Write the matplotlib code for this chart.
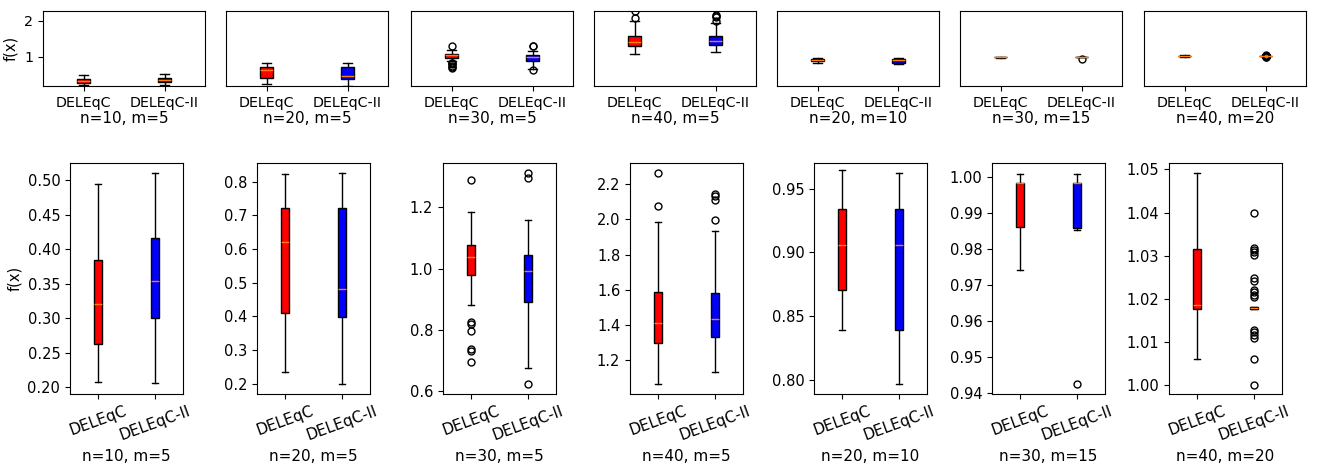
import numpy as np
import matplotlib
matplotlib.use("Agg")
import matplotlib.pyplot as plt

algos = ["DELEqC", "DELEqC-II"]
colors = ["red", "blue"]
cases = ["n=10, m=5", "n=20, m=5", "n=30, m=5", "n=40, m=5",
         "n=20, m=10", "n=30, m=15", "n=40, m=20"]

# per case: [DELEqC, DELEqC-II] -> (whislo, q1, med, q3, whishi)
box_stats = [
    [(0.2068, 0.262, 0.321, 0.385, 0.495), (0.2058, 0.3007, 0.3534, 0.4163, 0.5107)],
    [(0.236, 0.411, 0.621, 0.723, 0.823), (0.200, 0.397, 0.481, 0.723, 0.824)],
    [(0.880, 0.979, 1.0378, 1.078, 1.186), (0.675, 0.892, 0.992, 1.043, 1.160)],
    [(1.068, 1.302, 1.412, 1.588, 1.986), (1.134, 1.332, 1.438, 1.584, 1.935)],
    [(0.839, 0.8702, 0.9055, 0.9336, 0.9643), (0.7968, 0.8392, 0.9055, 0.9336, 0.9622)],
    [(0.9744, 0.9861, 0.9985, 0.9985, 1.001), (0.9853, 0.986, 0.9985, 0.9985, 1.001)],
    [(1.0061, 1.0178, 1.0186, 1.0316, 1.0491), (1.0178, 1.0178, 1.01795, 1.0182, 1.0182)],
]

outliers = [
    [[], []],
    [[], []],
    [[1.289, 0.825, 0.820, 0.795, 0.736, 0.730, 0.693], [1.312, 1.297, 0.624]],
    [[2.262, 2.077], [2.147, 2.132, 2.111, 1.994]],
    [[], []],
    [[], [0.9427]],
    [[], [1.040, 1.0319, 1.0314, 1.0309, 1.0302, 1.0248, 1.0241, 1.0222,
          1.0216, 1.0210, 1.0204, 1.0128, 1.0123, 1.0116, 1.0110, 1.0062, 1.0000]],
]

bottom_yticks = [
    [0.20, 0.25, 0.30, 0.35, 0.40, 0.45, 0.50],
    [0.2, 0.3, 0.4, 0.5, 0.6, 0.7, 0.8],
    [0.6, 0.8, 1.0, 1.2],
    [1.2, 1.4, 1.6, 1.8, 2.0, 2.2],
    [0.80, 0.85, 0.90, 0.95],
    [0.94, 0.95, 0.96, 0.97, 0.98, 0.99, 1.00],
    [1.00, 1.01, 1.02, 1.03, 1.04, 1.05],
]
bottom_ylims = [(0.19, 0.525), (0.17, 0.855), (0.59, 1.345), (1.01, 2.32),
                (0.789, 0.970), (0.9398, 1.0040), (0.998, 1.0515)]
yfmt = ["%.2f", "%.1f", "%.1f", "%.1f", "%.2f", "%.2f", "%.2f"]

W, H = 1320, 465
fig = plt.figure(figsize=(W / 100, H / 100), dpi=100)

top_left = [43, 226, 411, 594, 777, 960, 1144]
bot_left = [70, 257, 443, 630, 814, 992, 1169]


def draw(ax, i, width):
    stats = []
    for j in range(2):
        lo, q1, med, q3, hi = box_stats[i][j]
        stats.append(dict(whislo=lo, q1=q1, med=med, q3=q3, whishi=hi,
                          fliers=outliers[i][j], label=algos[j]))
    bp = ax.bxp(stats, positions=[1, 2], widths=width, capwidths=0.1,
                patch_artist=True,
                medianprops=dict(color="C1", linewidth=1),
                flierprops=dict(marker="o", markersize=5, markerfacecolor="none"))
    for patch, c in zip(bp["boxes"], colors):
        patch.set_facecolor(c)
    ax.set_xlim(0.5, 2.5)


for i in range(7):
    # top row: common y scale
    ax = fig.add_axes([top_left[i] / W, (H - 86) / H, 162 / W, 75 / H])
    draw(ax, i, 0.16)
    ax.set_ylim(0.19, 2.27)
    ax.set_xticks([1, 2], algos, fontsize=10.3)
    ax.set_xlabel(cases[i], fontsize=11, labelpad=1)
    if i == 0:
        ax.set_yticks([1, 2])
        ax.tick_params(axis="y", labelsize=10.3)
        ax.set_ylabel("f(x)", fontsize=10.5)
    else:
        ax.set_yticks([])

    # bottom row: own y scale
    ax = fig.add_axes([bot_left[i] / W, (H - 394) / H, 113 / W, 231 / H])
    draw(ax, i, 0.15)
    ax.set_ylim(*bottom_ylims[i])
    ax.set_yticks(bottom_yticks[i], [yfmt[i] % v for v in bottom_yticks[i]])
    ax.tick_params(axis="y", labelsize=10.5)
    ax.set_xticks([1, 2], algos, rotation=20, fontsize=11)
    ax.set_xlabel(cases[i], fontsize=11)
    if i == 0:
        ax.set_ylabel("f(x)", fontsize=10.5)

fig.savefig("out.png", dpi=100)
